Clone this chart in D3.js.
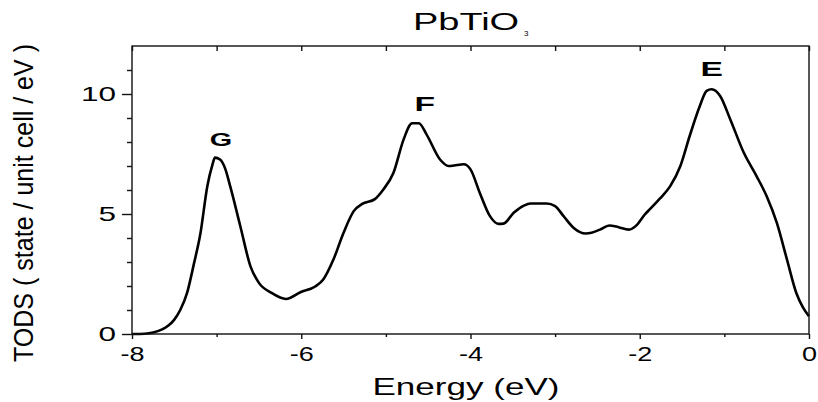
<!DOCTYPE html>
<html>
<head>
<meta charset="utf-8">
<script src="https://cdn.jsdelivr.net/npm/d3@7"></script>
<style>
  html, body { margin: 0; padding: 0; background: #fff; }
  svg { display: block; font-family: "Liberation Sans", Arial, sans-serif; }
</style>
</head>
<body>
<svg id="chart" width="818" height="402"></svg>
<script>
// ---- data ----
const energy = [-8, -7.85, -7.75, -7.65, -7.57, -7.50, -7.43, -7.35, -7.27, -7.19, -7.11, -7.05, -7.02, -6.96, -6.90, -6.84, -6.72, -6.60, -6.50, -6.35, -6.18, -6.01, -5.83, -5.74, -5.62, -5.50, -5.38, -5.28, -5.13, -5.03, -4.91, -4.79, -4.69, -4.61, -4.52, -4.36, -4.26, -4.16, -4.08, -4.00, -3.89, -3.77, -3.67, -3.61, -3.49, -3.37, -3.29, -3.10, -3.00, -2.90, -2.78, -2.64, -2.57, -2.47, -2.36, -2.25, -2.13, -2.03, -1.94, -1.88, -1.76, -1.64, -1.52, -1.41, -1.29, -1.21, -1.15, -1.05, -0.93, -0.77, -0.62, -0.50, -0.38, -0.26, -0.15, -0.07, 0];
const tods = [0, 0.01, 0.06, 0.18, 0.35, 0.6, 1.0, 1.7, 2.9, 4.22, 6.16, 7.05, 7.35, 7.27, 6.9, 6.16, 4.49, 2.82, 2.13, 1.71, 1.46, 1.74, 1.99, 2.27, 3.10, 4.22, 5.12, 5.42, 5.62, 6.02, 6.72, 8.11, 8.78, 8.78, 8.32, 7.27, 7.0, 7.04, 7.07, 6.86, 5.88, 4.91, 4.59, 4.60, 5.05, 5.35, 5.44, 5.44, 5.33, 4.91, 4.42, 4.19, 4.22, 4.35, 4.52, 4.45, 4.35, 4.56, 4.98, 5.2, 5.65, 6.16, 7.0, 8.25, 9.5, 10.13, 10.2, 9.92, 8.94, 7.55, 6.58, 5.74, 4.63, 3.10, 1.71, 1.1, 0.74];
const xMajorTicks = [-8, -6, -4, -2, 0];
const xMinorTicks = [-7, -5, -3, -1];
const xTickLabels = ["-8", "-6", "-4", "-2", "0"];
const yMajorTicks = [0, 5, 10];
const yMinorTicks = [1, 2, 3, 4, 6, 7, 8, 9, 11];
const yTickLabels = ["0", "5", "10"];
const peakLabels = ["G", "F", "E"];
const peakX = [-6.95, -4.54, -1.15];
const peakY = [7.82, 9.29, 10.75];
const xDomain = [-8, 0];
const yDomain = [0, 12];
const titleMain = "PbTiO";
const titleSub = "3";
const xTitle = "Energy (eV)";
const yTitle = "TODS ( state / unit cell / eV )";

// ---- layout ----
const L = 132, R = 809, T = 46, B = 334;
const svg = d3.select("#chart");
const x = d3.scaleLinear().domain(xDomain).range([L, R]);
const y = d3.scaleLinear().domain(yDomain).range([B, T]);
const stroke = "#111";

function stretch(sel, k) {
  sel.each(function () {
    const w = this.getComputedTextLength();
    d3.select(this).attr("textLength", w * k).attr("lengthAdjust", "spacingAndGlyphs");
  });
}

// curve
const line = d3.line().x((d, i) => x(energy[i])).y(d => y(d)).curve(d3.curveMonotoneX);
svg.append("path").datum(tods).attr("d", line)
  .attr("fill", "none").attr("stroke", "#000").attr("stroke-width", 2.6)
  .attr("stroke-linejoin", "round");

// frame
svg.append("rect").attr("x", L).attr("y", T).attr("width", R - L).attr("height", B - T)
  .attr("fill", "none").attr("stroke", stroke).attr("stroke-width", 1.4);

// left axis (outward ticks)
const yAxis = svg.append("g").attr("transform", `translate(${L},0)`);
yAxis.call(d3.axisLeft(y).tickValues(yMajorTicks).tickSize(10).tickFormat((d, i) => yTickLabels[i]).tickPadding(6));
const yAxisMinor = svg.append("g").attr("transform", `translate(${L},0)`);
yAxisMinor.call(d3.axisLeft(y).tickValues(yMinorTicks).tickSize(5).tickFormat(""));

// bottom axis
const xAxis = svg.append("g").attr("transform", `translate(0,${B})`);
xAxis.call(d3.axisBottom(x).tickValues(xMajorTicks).tickSize(5).tickFormat((d, i) => xTickLabels[i]).tickPadding(8));
const xAxisMinor = svg.append("g").attr("transform", `translate(0,${B})`);
xAxisMinor.call(d3.axisBottom(x).tickValues(xMinorTicks).tickSize(3).tickFormat(""));

// top axis (inward ticks)
const topAxis = svg.append("g").attr("transform", `translate(0,${T})`);
topAxis.call(d3.axisBottom(x).tickValues(xMajorTicks.concat(xMinorTicks)).tickSize(5).tickFormat(""));

[yAxis, yAxisMinor, xAxis, xAxisMinor, topAxis].forEach(g => {
  g.select(".domain").remove();
  g.selectAll(".tick line").attr("stroke", stroke).attr("stroke-width", 1.4);
});

yAxis.selectAll(".tick text").attr("font-size", 21).attr("fill", "#000")
  .attr("font-family", "'Liberation Sans', Arial, sans-serif").call(stretch, 1.5);
xAxis.selectAll(".tick text").attr("font-size", 20).attr("fill", "#000")
  .attr("font-family", "'Liberation Sans', Arial, sans-serif").call(stretch, 1.35);

// peak labels
svg.append("g").selectAll("text").data(peakLabels).join("text")
  .attr("x", (d, i) => x(peakX[i])).attr("y", (d, i) => y(peakY[i]))
  .attr("text-anchor", "middle").attr("font-weight", "bold")
  .attr("font-size", (d, i) => i === 0 ? 18 : 21)
  .text(d => d).call(stretch, 1.6);

// title
const title = svg.append("text").attr("x", 413).attr("y", 30).attr("font-size", 23).text(titleMain);
title.call(stretch, 1.65);
svg.append("text").attr("x", 524).attr("y", 36).attr("font-size", 8).text(titleSub);

// x title
svg.append("text").attr("x", 466).attr("y", 395).attr("text-anchor", "middle")
  .attr("font-size", 24).text(xTitle).call(stretch, 1.46);

// y title
svg.append("text").attr("transform", `translate(33,203) rotate(-90)`).attr("text-anchor", "middle")
  .attr("font-size", 27).attr("textLength", 318).attr("lengthAdjust", "spacingAndGlyphs").text(yTitle);
</script>
</body>
</html>
